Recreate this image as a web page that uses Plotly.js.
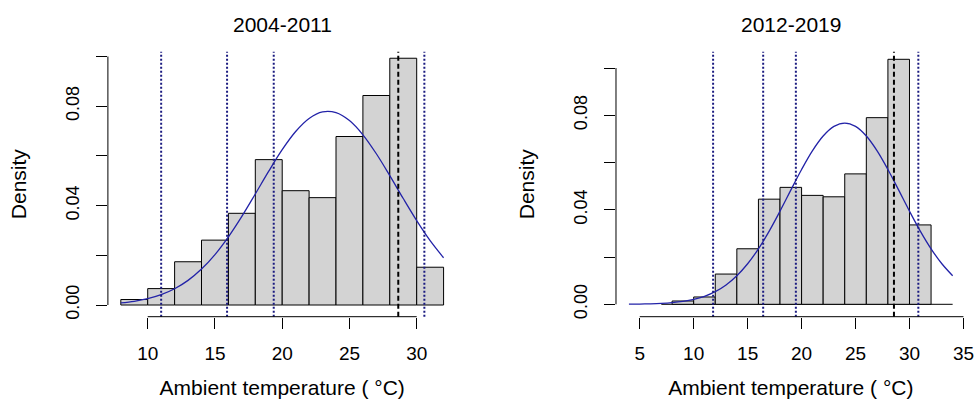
<!DOCTYPE html>
<html><head><meta charset="utf-8">
<script src="https://cdn.plot.ly/plotly-3.0.1.min.js"></script>
<style>html,body{margin:0;padding:0;background:#fff}</style>
</head><body><div id="chart" style="width:975px;height:400px"></div>
<script>
// ---- data ----
const panelTitles = ['2004-2011', '2012-2019'];
const xLabel = 'Ambient temperature ( °C)';
const yLabel = 'Density';

const binCenters = [9, 11, 13, 15, 17, 19, 21, 23, 25, 27, 29, 31];
const densityA = [0.0022, 0.0066, 0.0174, 0.0261, 0.0369, 0.0585, 0.0460, 0.0432, 0.0678, 0.0843, 0.0993, 0.0152];
const densityB = [0.0014, 0.0031, 0.0128, 0.0235, 0.0445, 0.0495, 0.0461, 0.0455, 0.0552, 0.0790, 0.1037, 0.0336];

const curveXA = [8,9,10,11,12,13,14,15,16,17,18,19,20,21,22,23,24,25,26,27,28,29,30,31,32];
const curveYA = [0.00085,0.00149,0.00254,0.00415,0.00653,0.0099,0.01445,0.02028,0.02743,0.03568,0.04468,0.05386,0.0625,0.06981,0.07506,0.07768,0.07739,0.0742,0.06849,0.06086,0.05205,0.04284,0.03395,0.02589,0.01901];
const curveXB = [4,5,6,7,8,9,10,11,12,13,14,15,16,17,18,19,20,21,22,23,24,25,26,27,28,29,30,31,32,33,34];
const curveYB = [0.00005,0.0001,0.00019,0.00037,0.00068,0.0012,0.00205,0.00337,0.00535,0.00819,0.01208,0.01715,0.02349,0.031,0.03943,0.04832,0.05707,0.06496,0.07125,0.07532,0.07672,0.07532,0.07125,0.06496,0.05707,0.04832,0.03943,0.031,0.02349,0.01715,0.01208];

const dottedA = [11.0, 15.9, 19.37, 30.57];
const dashedA = [28.63];
const dottedB = [11.8, 16.44, 19.47, 30.82];
const dashedB = [28.56];
const baselineB = [7, 34];

const xTicksA = [10, 15, 20, 25, 30];
const xTicksB = [5, 10, 15, 20, 25, 30, 35];
const yTicks = [0, 0.02, 0.04, 0.06, 0.08, 0.10];
const yTickText = ['0.00', '', '0.04', '', '0.08', ''];

// ---- styling ----
const FONT = 'Liberation Sans, Arial, sans-serif';
const barFill = '#D3D3D3';
const curveColor = '#2323A8';
const vColor = '#1A1A80';

const traces = [
  {type:'bar', x:binCenters, y:densityA, width:2, xaxis:'x', yaxis:'y',
   marker:{color:barFill, line:{color:'#000', width:1}}, hoverinfo:'skip'},
  {type:'scatter', mode:'lines', x:curveXA, y:curveYA, xaxis:'x', yaxis:'y',
   line:{color:curveColor, width:1.3, shape:'spline'}, hoverinfo:'skip'},
  {type:'bar', x:binCenters, y:densityB, width:2, xaxis:'x2', yaxis:'y2',
   marker:{color:barFill, line:{color:'#000', width:1}}, hoverinfo:'skip'},
  {type:'scatter', mode:'lines', x:curveXB, y:curveYB, xaxis:'x2', yaxis:'y2',
   line:{color:curveColor, width:1.3, shape:'spline'}, hoverinfo:'skip'}
];

function xAxis(domain, range, ticks, anchor) {
  return {domain, range, anchor, tickvals:ticks, ticktext:ticks.map(String),
    ticks:'outside', ticklen:11, tickwidth:1, tickcolor:'#000',
    showline:false, showgrid:false, zeroline:false, ticklabelstandoff:8,
    tickfont:{family:FONT, size:19, color:'#000'},
    title:{text:xLabel, font:{family:FONT, size:21, color:'#000'}, standoff:17}};
}
function yAxis(domain, range, anchor) {
  return {domain, range, anchor, tickvals:yTicks, ticktext:yTickText, tickangle:-90,
    ticks:'outside', ticklen:11, tickwidth:1, tickcolor:'#000',
    showline:false, showgrid:false, zeroline:false, ticklabelstandoff:10,
    tickfont:{family:FONT, size:18, color:'#000'},
    title:{text:yLabel, font:{family:FONT, size:21, color:'#000'}, standoff:30}};
}

const yDom = [0.20825, 0.87075];
const shapes = [];
function vline(xref, x, dash, color) {
  shapes.push({type:'line', xref, yref:(xref==='x'?'y':'y2')+' domain', x0:x, x1:x, y0:0, y1:1,
    line:{color, width:2, dash}});
}
dottedA.forEach(v => vline('x', v, '2px,2px', vColor));
dashedA.forEach(v => vline('x', v, '5px,3px', '#000'));
dottedB.forEach(v => vline('x2', v, '2px,2px', vColor));
dashedB.forEach(v => vline('x2', v, '5px,3px', '#000'));
// R-style axis lines spanning only the tick range
shapes.push({type:'line', xref:'x domain', yref:'y', x0:0, x1:0, y0:yTicks[0], y1:yTicks[yTicks.length-1], line:{color:'#000', width:1}});
shapes.push({type:'line', xref:'x', yref:'y domain', x0:xTicksA[0], x1:xTicksA[xTicksA.length-1], y0:0, y1:0, line:{color:'#000', width:1}});
shapes.push({type:'line', xref:'x2 domain', yref:'y2', x0:0, x1:0, y0:yTicks[0], y1:yTicks[yTicks.length-1], line:{color:'#000', width:1}});
shapes.push({type:'line', xref:'x2', yref:'y2 domain', x0:xTicksB[0], x1:xTicksB[xTicksB.length-1], y0:0, y1:0, line:{color:'#000', width:1}});
shapes.push({type:'line', xref:'x2', yref:'y2', x0:baselineB[0], x1:baselineB[1], y0:0, y1:0, line:{color:'#000', width:1}, layer:'below'});

const layout = {
  width:975, height:400, margin:{l:0, r:0, t:0, b:0},
  paper_bgcolor:'#fff', plot_bgcolor:'#fff', showlegend:false, bargap:0,
  font:{family:FONT, color:'#000'},
  xaxis: xAxis([0.11067, 0.46821], [7.04, 32.96], xTicksA, 'y'),
  yaxis: yAxis(yDom, [-0.004708, 0.10193], 'x'),
  xaxis2: xAxis([0.63179, 0.99036], [2.8, 35.2], xTicksB, 'y2'),
  yaxis2: yAxis(yDom, [-0.005249, 0.10692], 'x2'),
  shapes,
  annotations: [
    {text:panelTitles[0], xref:'x domain', yref:'paper', x:0.5, y:0.94, xanchor:'center', yanchor:'middle', showarrow:false, font:{family:FONT, size:21, color:'#000'}},
    {text:panelTitles[1], xref:'x2 domain', yref:'paper', x:0.5, y:0.94, xanchor:'center', yanchor:'middle', showarrow:false, font:{family:FONT, size:21, color:'#000'}}
  ]
};

Plotly.newPlot('chart', traces, layout, {staticPlot:true, displayModeBar:false});
</script></body></html>
